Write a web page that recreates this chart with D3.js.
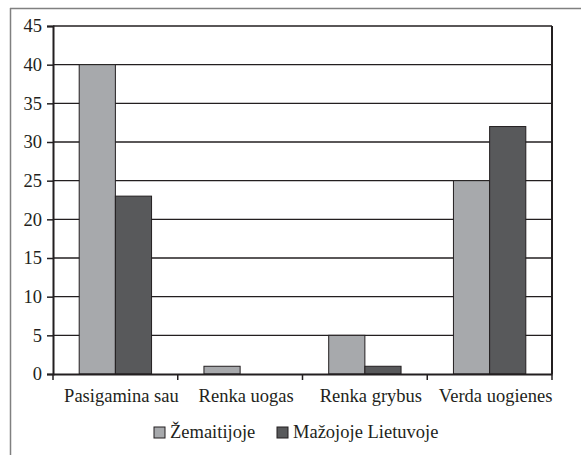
<!DOCTYPE html>
<html>
	<head>
		<meta charset="UTF-8" />
		<title>Chart</title>
		<style>
			body { margin: 0; background: #fff; }
		</style>
	</head>
	<body>
		<div id="chart"></div>
		<script src="https://cdnjs.cloudflare.com/ajax/libs/d3/7.8.5/d3.min.js"></script>
		<script>
			var categories = ['Pasigamina sau', 'Renka uogas', 'Renka grybus', 'Verda uogienes'];
			var seriesNames = ['Žemaitijoje', 'Mažojoje Lietuvoje'];
			var zemaitijoje = [40, 1, 5, 25];
			var mazojoje = [23, 0, 1, 32];
			var yTicks = [0, 5, 10, 15, 20, 25, 30, 35, 40, 45];

			var width = 581;
			var height = 455;
			var margin = { top: 26, left: 53, right: 29, bottom: 81 };
			var plotW = width - margin.left - margin.right;
			var plotH = height - margin.top - margin.bottom;
			var colors = ['#a7a9ac', '#58595b'];
			var ink = '#231f20';
			var serif = "'Liberation Serif', serif";

			var svg = d3
				.select('#chart')
				.append('svg')
				.attr('width', width)
				.attr('height', height)
				.attr('font-family', serif);

			// outer frame (only top and left visible)
			svg.append('line').attr('x1', 10).attr('y1', 8.5).attr('x2', width).attr('y2', 8.5)
				.attr('stroke', '#808080').attr('stroke-width', 1.5);
			svg.append('line').attr('x1', 10.5).attr('y1', 8).attr('x2', 10.5).attr('y2', height)
				.attr('stroke', '#808080').attr('stroke-width', 1.5);

			var g = svg.append('g')
				.attr('transform', 'translate(' + margin.left + ',' + margin.top + ')');

			var x0 = d3.scaleBand().domain(categories).range([0, plotW]).padding(0);
			var bw = x0.bandwidth() * 0.58;
			var x1 = d3.scaleBand().domain(seriesNames).range([(x0.bandwidth() - bw) / 2, (x0.bandwidth() + bw) / 2]).padding(0);
			var y = d3.scaleLinear().domain([0, 45]).range([plotH, 0]);

			// gridlines
			g.selectAll('.grid')
				.data(yTicks.slice(1))
				.enter()
				.append('line')
				.attr('x1', 0)
				.attr('x2', plotW)
				.attr('y1', function (d) { return y(d); })
				.attr('y2', function (d) { return y(d); })
				.attr('stroke', ink)
				.attr('stroke-width', 1.4);

			var rows = categories.map(function (c, i) {
				return { cat: c, vals: [zemaitijoje[i], mazojoje[i]] };
			});

			var groups = g.selectAll('.grp')
				.data(rows)
				.enter()
				.append('g')
				.attr('transform', function (d) { return 'translate(' + x0(d.cat) + ',0)'; });

			groups.selectAll('rect')
				.data(function (d) {
					return d.vals.map(function (v, j) { return { s: seriesNames[j], v: v, j: j }; });
				})
				.enter()
				.filter(function (d) { return d.v > 0; })
				.append('rect')
				.attr('x', function (d) { return x1(d.s); })
				.attr('y', function (d) { return y(d.v); })
				.attr('width', x1.bandwidth())
				.attr('height', function (d) { return plotH - y(d.v); })
				.attr('fill', function (d) { return colors[d.j]; })
				.attr('stroke', ink)
				.attr('stroke-width', 1);

			// y axis
			var yAxis = g.append('g')
				.call(d3.axisLeft(y).tickValues(yTicks).tickSize(6).tickPadding(5));
			yAxis.attr('font-family', serif).attr('font-size', 18.5);
			yAxis.select('.domain').attr('stroke', ink).attr('stroke-width', 2);
			yAxis.selectAll('.tick line').attr('stroke', ink).attr('stroke-width', 1.5);
			yAxis.selectAll('.tick text').attr('fill', ink);

			// x axis
			var xAxis = g.append('g')
				.attr('transform', 'translate(0,' + plotH + ')')
				.call(d3.axisBottom(x0).tickSize(0).tickPadding(15));
			xAxis.attr('font-family', serif).attr('font-size', 18.5);
			xAxis.select('.domain').attr('stroke', ink).attr('stroke-width', 2);
			xAxis.selectAll('.tick text')
				.attr('fill', ink)
				.attr('dx', 6);

			var bounds = [0].concat(categories.map(function (c) { return x0(c) + x0.bandwidth(); }));
			xAxis.selectAll('.bt')
				.data(bounds)
				.enter()
				.append('line')
				.attr('x1', function (d) { return d; })
				.attr('x2', function (d) { return d; })
				.attr('y1', 0)
				.attr('y2', 6)
				.attr('stroke', ink)
				.attr('stroke-width', 1.5);

			// right border of plot
			g.append('line')
				.attr('x1', plotW).attr('x2', plotW)
				.attr('y1', 0).attr('y2', plotH)
				.attr('stroke', ink).attr('stroke-width', 2);

			// legend
			var legendX = [154, 277];
			var legend = svg.selectAll('.legend')
				.data(seriesNames)
				.enter()
				.append('g')
				.attr('transform', function (d, i) { return 'translate(' + legendX[i] + ',427)'; });
			legend.append('rect')
				.attr('width', 11)
				.attr('height', 11)
				.attr('fill', function (d, i) { return colors[i]; })
				.attr('stroke', ink)
				.attr('stroke-width', 1);
			legend.append('text')
				.attr('x', 16)
				.attr('y', 11)
				.attr('fill', ink)
				.attr('font-size', 18.5)
				.text(function (d) { return d; });
		</script>
	</body>
</html>
